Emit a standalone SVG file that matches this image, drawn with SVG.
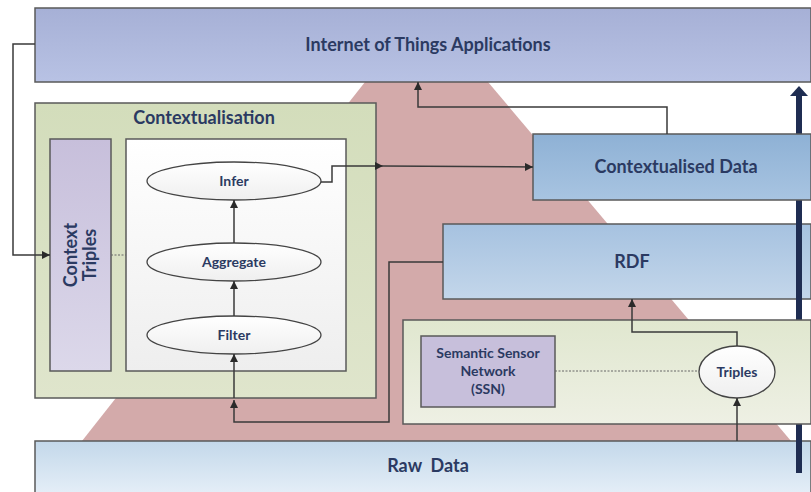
<svg xmlns="http://www.w3.org/2000/svg" width="811" height="492" viewBox="0 0 811 492">
<style>
.box{stroke:#5a5a5a;stroke-width:1.5}
.t{font-family:Lato,"Liberation Sans",sans-serif;font-weight:bold;fill:#2b3a62;text-anchor:middle}
.big{font-size:18px}
.sm{font-size:14px}
.ell{fill:url(#gEll);stroke:#444;stroke-width:1.3}
.c{fill:none;stroke:#3a3a3a;stroke-width:1.5}
.dot{fill:none;stroke:#666;stroke-width:1;stroke-dasharray:2 1.5}
</style>
<defs>
<linearGradient id="gIot" x1="0" y1="0" x2="0" y2="1"><stop offset="0" stop-color="#a6b0d6"/><stop offset="1" stop-color="#b8c2e4"/></linearGradient>
<linearGradient id="gGreen" x1="0" y1="0" x2="0" y2="1"><stop offset="0" stop-color="#d3ddbb"/><stop offset="1" stop-color="#dfe5cc"/></linearGradient>
<linearGradient id="gWhite" x1="0" y1="0" x2="0" y2="1"><stop offset="0" stop-color="#ffffff"/><stop offset="1" stop-color="#eeeeee"/></linearGradient>
<linearGradient id="gCT" x1="0" y1="0" x2="0" y2="1"><stop offset="0" stop-color="#c7bfdb"/><stop offset="1" stop-color="#dcd8ea"/></linearGradient>
<linearGradient id="gEll" x1="0" y1="0" x2="0" y2="1"><stop offset="0" stop-color="#ffffff"/><stop offset="1" stop-color="#efefef"/></linearGradient>
<linearGradient id="gCD" x1="0" y1="0" x2="0" y2="1"><stop offset="0" stop-color="#8eb1d5"/><stop offset="1" stop-color="#a8c4e1"/></linearGradient>
<linearGradient id="gRDF" x1="0" y1="0" x2="0" y2="1"><stop offset="0" stop-color="#a6c2e0"/><stop offset="1" stop-color="#c3d6ea"/></linearGradient>
<linearGradient id="gSem" x1="0" y1="0" x2="0" y2="1"><stop offset="0" stop-color="#e0e7cf"/><stop offset="1" stop-color="#eef0e4"/></linearGradient>
<linearGradient id="gRaw" x1="0" y1="0" x2="0" y2="1"><stop offset="0" stop-color="#c3d8ea"/><stop offset="1" stop-color="#e6eff8"/></linearGradient>
<marker id="ah" viewBox="0 0 10 10" refX="10" refY="5" markerWidth="8" markerHeight="8" markerUnits="userSpaceOnUse" orient="auto"><path d="M0,0 L10,5 L0,10 Z" fill="#2a2a2a"/></marker>
</defs>

<polygon id="pyramid" points="365,82 488,82 791,441 82,441" fill="#d3aaaa"/>

<g id="iot-applications">
<rect class="box" x="35" y="8" width="776" height="74" fill="url(#gIot)"/>
<text class="t big" x="428" y="51">Internet of Things Applications</text>
</g>

<g id="contextualisation">
<rect class="box" x="35" y="103" width="341" height="295" fill="url(#gGreen)"/>
<text class="t big" x="204" y="124">Contextualisation</text>
</g>

<g id="context-triples">
<rect class="box" x="50" y="139" width="61" height="232" fill="url(#gCT)"/>
<text class="t" font-size="18" transform="translate(80,255) rotate(-90)"><tspan x="0" y="-3">Context</tspan><tspan x="0" y="16">Triples</tspan></text>
</g>

<g id="process-box">
<rect class="box" x="126" y="139" width="220" height="232" fill="url(#gWhite)"/>
</g>

<g id="infer">
<ellipse class="ell" cx="234" cy="181" rx="87" ry="19"/>
<text class="t sm" x="234" y="186">Infer</text>
</g>
<g id="aggregate">
<ellipse class="ell" cx="234" cy="262" rx="87" ry="19"/>
<text class="t sm" x="234" y="267">Aggregate</text>
</g>
<g id="filter">
<ellipse class="ell" cx="234" cy="335" rx="87" ry="19"/>
<text class="t sm" x="234" y="340">Filter</text>
</g>

<g id="rdf">
<rect class="box" x="443" y="224" width="368" height="75" fill="url(#gRDF)"/>
<text class="t big" x="632" y="268">RDF</text>
</g>

<g id="raw-data">
<rect class="box" x="35" y="441" width="776" height="55" fill="url(#gRaw)"/>
<text class="t big" x="428" y="472" xml:space="preserve">Raw  Data</text>
</g>

<g id="data-flow-arrow">
<rect x="796" y="94" width="6" height="379" fill="#1f2d52"/>
<path d="M790,96 L799,86 L808,96 Z" fill="#1f2d52"/>
</g>

<g id="contextualised-data">
<rect class="box" x="533" y="134" width="278" height="66" fill="url(#gCD)"/>
<text class="t big" x="676" y="173">Contextualised Data</text>
</g>

<g id="semantic-layer">
<rect class="box" x="403" y="320" width="408" height="104" fill="url(#gSem)"/>
</g>

<g id="ssn">
<rect class="box" x="421" y="336" width="134" height="71" fill="#c7bfdb"/>
<text class="t sm"><tspan x="488" y="358">Semantic Sensor</tspan><tspan x="488" y="376">Network</tspan><tspan x="488" y="394">(SSN)</tspan></text>
</g>

<g id="triples">
<ellipse class="ell" cx="737" cy="372" rx="38" ry="26"/>
<text class="t sm" x="737" y="377">Triples</text>
</g>

<g id="connectors">
<path class="c" d="M35,44 H13 V255 H50" marker-end="url(#ah)"/>
<path class="dot" d="M111,255 H126"/>
<path class="c" d="M234,316 V281" marker-end="url(#ah)"/>
<path class="c" d="M234,243 V200" marker-end="url(#ah)"/>
<path class="c" d="M321,182 H332 V166 H383" marker-end="url(#ah)"/>
<path class="c" d="M383,166 L533,167" marker-end="url(#ah)"/>
<path class="c" d="M667,134 V107 H418 V82" marker-end="url(#ah)"/>
<path class="c" d="M443,262 H389 V422 H234 V400" marker-end="url(#ah)"/>
<path class="c" d="M234,398 V354" marker-end="url(#ah)"/>
<path class="c" d="M737,346 V332 H632 V299" marker-end="url(#ah)"/>
<path class="c" d="M737,441 V398" marker-end="url(#ah)"/>
<path class="dot" d="M555,371 H699"/>
</g>
</svg>
